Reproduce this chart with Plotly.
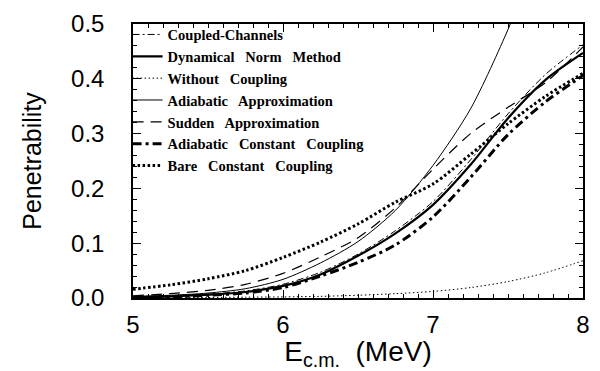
import plotly.graph_objects as go

energy = [5.0, 5.25, 5.5, 5.75, 6.0, 6.25, 6.5, 6.75, 7.0, 7.25, 7.5, 7.75, 8.0]
energy_adiabatic = [5.0, 5.25, 5.5, 5.75, 6.0, 6.25, 6.5, 6.75, 7.0, 7.25, 7.5, 7.6]

coupled_channels = [0.002, 0.004, 0.007, 0.013, 0.025, 0.047, 0.080, 0.123, 0.176, 0.252, 0.336, 0.408, 0.462]
dynamical_norm = [0.001, 0.003, 0.006, 0.011, 0.022, 0.043, 0.077, 0.118, 0.170, 0.243, 0.328, 0.398, 0.447]
without_coupling = [0.0, 0.0005, 0.001, 0.0015, 0.002, 0.003, 0.005, 0.008, 0.012, 0.019, 0.030, 0.046, 0.068]
adiabatic_approx = [0.003, 0.005, 0.009, 0.017, 0.034, 0.064, 0.103, 0.160, 0.242, 0.345, 0.490, 0.560]
sudden_approx = [0.004, 0.008, 0.014, 0.025, 0.045, 0.075, 0.110, 0.165, 0.235, 0.300, 0.348, 0.393, 0.458]
adiabatic_const = [0.001, 0.002, 0.005, 0.009, 0.019, 0.040, 0.065, 0.097, 0.148, 0.220, 0.298, 0.358, 0.406]
bare_const = [0.016, 0.024, 0.035, 0.050, 0.074, 0.102, 0.135, 0.175, 0.208, 0.262, 0.318, 0.368, 0.410]

legend_names = [
    "Coupled-Channels",
    "Dynamical&nbsp;&nbsp; Norm&nbsp;&nbsp; Method",
    "Without&nbsp;&nbsp; Coupling",
    "Adiabatic&nbsp;&nbsp; Approximation",
    "Sudden&nbsp;&nbsp; Approximation",
    "Adiabatic&nbsp;&nbsp; Constant&nbsp;&nbsp; Coupling",
    "Bare&nbsp;&nbsp; Constant&nbsp;&nbsp; Coupling",
]

series = [
    (energy, coupled_channels, dict(color="black", width=1, dash="7px,3px,2px,3px")),
    (energy, dynamical_norm, dict(color="black", width=2.2, dash="solid")),
    (energy, without_coupling, dict(color="black", width=1, dash="1.5px,2.5px")),
    (energy_adiabatic, adiabatic_approx, dict(color="black", width=1, dash="solid")),
    (energy, sudden_approx, dict(color="black", width=1.2, dash="11px,7px")),
    (energy, adiabatic_const, dict(color="black", width=3, dash="9px,4px,3px,4px")),
    (energy, bare_const, dict(color="black", width=3, dash="2.5px,2.5px")),
]

fig = go.Figure()
for name, (xs, ys, line) in zip(legend_names, series):
    fig.add_trace(go.Scatter(
        x=xs, y=ys, mode="lines", name="<b>" + name + "</b>",
        line=dict(shape="spline", smoothing=0.8, **line),
    ))

sans = "Liberation Sans, Arial, sans-serif"
axis_font = dict(family=sans, size=24, color="black")
fig.update_layout(
    width=600, height=371,
    margin=dict(l=133, r=10, t=15, b=72),
    paper_bgcolor="white", plot_bgcolor="white",
    showlegend=True,
    legend=dict(
        x=-0.012, y=1.02, xanchor="left", yanchor="top",
        bgcolor="rgba(0,0,0,0)", borderwidth=0,
        font=dict(family="Liberation Serif, Times New Roman, serif", size=14.5, color="black"),
        itemwidth=30, tracegroupgap=0,
    ),
    xaxis=dict(
        range=[5, 8], tickvals=[5, 6, 7, 8], ticktext=["5", "6", "7", "8"],
        showgrid=False, zeroline=False,
        showline=True, linecolor="black", linewidth=1.5, mirror="ticks",
        ticks="inside", ticklen=8, tickwidth=1, tickcolor="black",
        minor=dict(dtick=0.1, ticks="inside", ticklen=4, tickcolor="black", tickwidth=1),
        tickfont=axis_font, ticklabelstandoff=4,
        title=dict(text="E<sub>c.m.</sub>&nbsp; (MeV)", font=dict(family=sans, size=28, color="black"), standoff=4),
    ),
    yaxis=dict(
        range=[0, 0.5], tickvals=[0, 0.1, 0.2, 0.3, 0.4, 0.5],
        ticktext=["0.0", "0.1", "0.2", "0.3", "0.4", "0.5"],
        showgrid=False, zeroline=False,
        showline=True, linecolor="black", linewidth=1.5, mirror="ticks",
        ticks="inside", ticklen=8, tickwidth=1, tickcolor="black",
        minor=dict(dtick=0.02, ticks="inside", ticklen=4, tickcolor="black", tickwidth=1),
        tickfont=axis_font, ticklabelstandoff=22,
        title=dict(text="Penetrability", font=dict(family=sans, size=25, color="black"), standoff=22),
    ),
)

fig.write_html("out.html")
